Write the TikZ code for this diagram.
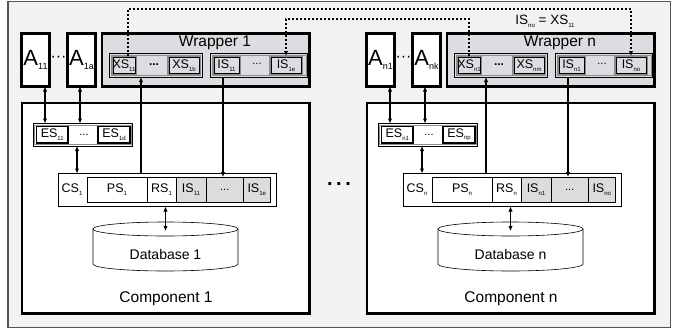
\documentclass[tikz,border=0pt]{standalone}
\usepackage{fontspec}
\setmainfont{Liberation Sans}
\usetikzlibrary{arrows.meta,calc}
\definecolor{framebg}{HTML}{F2F2F2}
\definecolor{framecol}{HTML}{555555}
\definecolor{wrapbg}{HTML}{DCDDE1}
\definecolor{cellgray}{HTML}{DCDCDC}
\definecolor{rimgray}{HTML}{8C8C8C}
\newcommand\subx[1]{\raisebox{-0.45ex}{\fontsize{6}{6}\selectfont #1}}
\newcommand\subA[1]{\raisebox{-0.3ex}{\fontsize{9}{9}\selectfont #1}}
\newcommand\mybox[7][]{%
  \node[#1, minimum width={(#4-#2)*1pt}, minimum height={(#5-#3)*1pt}] (#6) at ({(#2+#4)/2},{(#3+#5)/2}) {#7};}
\tikzset{
  bxbase/.style={rectangle, inner sep=0pt, outer sep=0pt, align=center},
  thickbox/.style={bxbase, draw=black, line width=2.6pt, fill=white},
  wrapbox/.style={thickbox, fill=wrapbg},
  grpbox/.style={bxbase, draw=black, line width=0.8pt, fill=wrapbg},
  svcbox/.style={bxbase, draw=rimgray, line width=1.8pt, fill=wrapbg, font=\fontsize{12.5}{12.5}\selectfont},
  esgrp/.style={bxbase, draw=black, line width=0.8pt, fill=white},
  esbox/.style={bxbase, draw=black, line width=1.3pt, fill=white, font=\fontsize{12.5}{12.5}\selectfont},
  csbox/.style={bxbase, draw=black, line width=0.7pt, fill=white},
  cell/.style={bxbase, draw=black, line width=0.6pt, fill=white, font=\fontsize{12.5}{12.5}\selectfont},
  graycell/.style={cell, fill=cellgray},
  txt/.style={inner sep=0pt, outer sep=0pt},
  conn/.style={line width=1.1pt, -{Latex[length=5pt,width=4.5pt]}},
  biconn/.style={line width=1.1pt, {Latex[length=5pt,width=4.5pt]}-{Latex[length=5pt,width=4.5pt]}},
  dotconn/.style={line width=1.1pt, dash pattern=on 2pt off 2pt, -{Latex[length=5pt,width=4.5pt]}},
}
\newcommand\drawpanel[6]{%
  % component
  \mybox[thickbox]{22}{103}{309.5}{313.5}{Comp}{}
  % applications
  \mybox[thickbox]{21.5}{33.5}{49.5}{86.5}{A1}{\fontsize{22}{22}\selectfont A\subA{#2}}
  \mybox[thickbox]{67.5}{33.5}{95.5}{86.5}{A2}{\fontsize{22}{22}\selectfont A\subA{#3}}
  \node[txt, font=\fontsize{16}{16}\selectfont] (adots) at (58.5,59) {···};
  % wrapper
  \mybox[wrapbox]{102}{33.5}{309.5}{86.5}{W}{}
  \node[txt, font=\fontsize{15.5}{15.5}\selectfont] (wt) at (215,43) {Wrapper #1};
  \mybox[grpbox]{109.5}{53.5}{202}{77}{XSg}{}
  \mybox[grpbox]{210.5}{53.5}{307.5}{77}{ISg}{}
  \mybox[svcbox]{112}{56}{136}{74.5}{XS1}{XS\subx{#2}}
  \mybox[svcbox]{168}{56}{200}{74.5}{XSl}{XS\subx{#4}}
  \mybox[svcbox]{213}{56}{240}{74.5}{IS1}{IS\subx{#2}}
  \mybox[svcbox]{270}{56}{302}{74.5}{ISl}{IS\subx{#5}}
  \node[txt, font=\bfseries\fontsize{12}{12}\selectfont] (xsdots) at (154,64.5) {...};
  \node[txt, font=\fontsize{11}{11}\selectfont] (isdots) at (257,64) {...};
  % external services
  \mybox[esgrp]{33}{123.5}{132.5}{146}{ESg}{}
  \mybox[esbox]{36.5}{126.5}{68}{143}{ES1}{ES\subx{#2}}
  \mybox[esbox]{98}{126.5}{130}{143}{ESl}{ES\subx{#6}}
  \node[txt, font=\fontsize{11}{11}\selectfont] (esdots) at (84,135) {...};
  % component services
  \mybox[csbox]{58}{173.5}{276.5}{206.5}{CS}{}
  \node[txt, font=\fontsize{12.5}{12.5}\selectfont] (cslbl) at (72,190) {CS\subx{#1}};
  \mybox[cell]{87}{177}{147}{202}{PS}{PS\subx{#1}}
  \mybox[cell]{147}{177}{176}{202}{RS}{RS\subx{#1}}
  \mybox[graycell]{176}{177}{206}{202}{ISc1}{IS\subx{#2}}
  \mybox[graycell]{206}{177}{243.5}{202}{IScd}{\fontsize{11}{11}\selectfont ...}
  \mybox[graycell]{243.5}{177}{270}{202}{IScl}{IS\subx{#5}}
  % inner rims
  \foreach \n in {XSg,ISg,ESg}
    \draw[rimgray, line width=0.7pt] ([shift={(1.4,1.4)}]\n.north west) rectangle ([shift={(-1.4,-1.4)}]\n.south east);
  \foreach \n in {XS1,XSl,IS1,ISl}
    \draw[black, line width=0.5pt] ([shift={(1.1,1.1)}]\n.north west) rectangle ([shift={(-1.1,-1.1)}]\n.south east);
  % database
  \mybox[bxbase]{93}{229}{238}{264}{DB}{}
  \path[draw=black, line width=0.6pt, fill=white] (DB.north west) -- (DB.south west)
     arc[start angle=180, end angle=360, x radius=72.5pt, y radius=7pt] -- (DB.north east) -- cycle;
  \draw[line width=0.6pt, fill=white] (DB.north) ellipse[x radius=72.5pt, y radius=7pt];
  \node[txt, font=\fontsize{14}{14}\selectfont] (dbl) at (165.5,254) {Database #1};
  \node[txt, font=\fontsize{15.5}{15.5}\selectfont] (cl) at (166,299) {Component #1};
  % connectors
  \draw[biconn] ([xshift=9.5pt]A1.south) -- ([xshift=9.5pt]A1.south |- ESg.north);
  \draw[biconn] ([xshift=-1.5pt]A2.south) -- ([xshift=-1.5pt]A2.south |- ESg.north);
  \draw[biconn] ([xshift=-5.75pt]ESg.south) -- ([xshift=-5.75pt]ESg.south |- CS.north);
  \draw[conn] ([xshift=-14.75pt]XSg.south |- CS.north) -- ([xshift=-14.75pt]XSg.south);
  \draw[conn] ([xshift=-3.5pt]IS1.south |- ISg.south) -- ([xshift=-3.5pt]IS1.south |- ISc1.north);
  \draw[biconn] (DB.north |- CS.south) -- ([yshift=-2pt]DB.north);
}
\begin{document}
\begin{tikzpicture}[x=1pt,y=-1pt]
\useasboundingbox (0,0) rectangle (677,332);
\path[fill=framebg, draw=framecol, line width=1.2pt] (8,1.5) rectangle (670.5,327.5);
\begin{scope}
  \drawpanel{1}{11}{1a}{1b}{1e}{1d}
\end{scope}
\begin{scope}[xshift=345pt, name prefix=R-]
  \drawpanel{n}{n1}{nk}{nm}{no}{np}
\end{scope}
\node[txt, font=\bfseries\fontsize{20}{20}\selectfont] (mdots) at (339,184) {.\hspace{3.5pt}.\hspace{3.5pt}.};
\coordinate (topA) at (300,9);
\coordinate (topB) at (300,19);
\draw[dotconn] ([xshift=4pt]XS1.north) -- ([xshift=4pt]XS1.north |- topA) -| (R-ISl.north);
\draw[dotconn] (R-XS1.north) -- (R-XS1.north |- topB) -| (ISl.north);
\node[txt, font=\fontsize{13.5}{13.5}\selectfont] (eqlbl) at (545,21) {IS\subx{no} = XS\subx{11}};
\end{tikzpicture}
\end{document}
